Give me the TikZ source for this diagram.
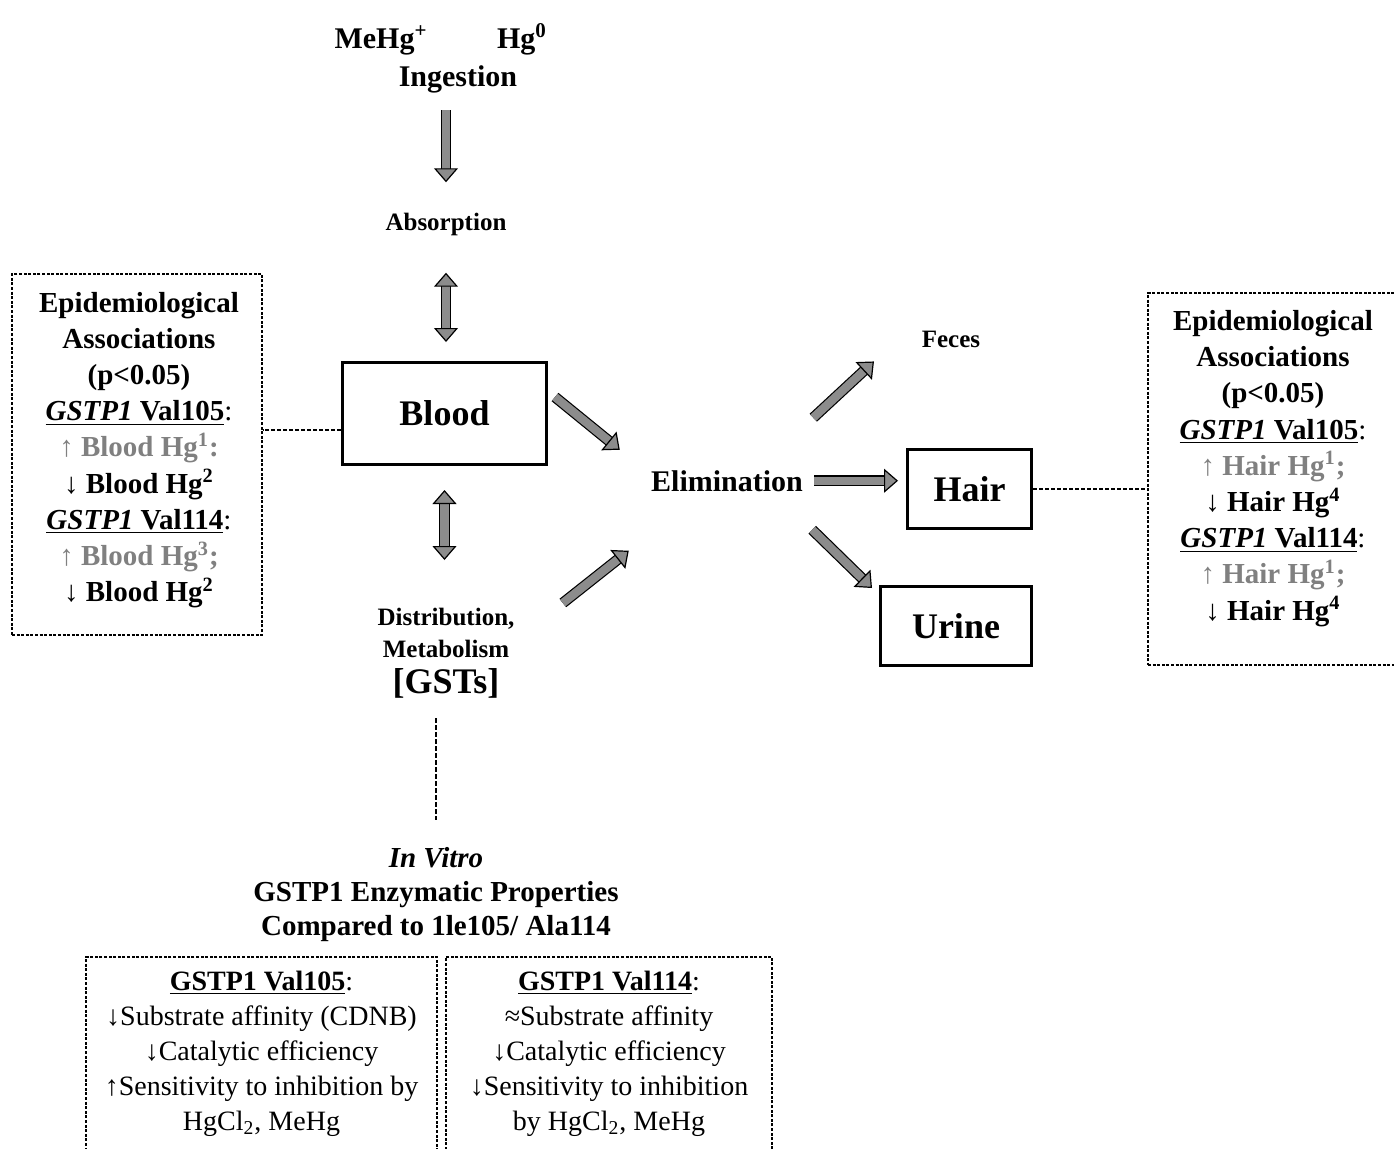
\documentclass[tikz,border=0pt]{standalone}
\usepackage{fontspec}
\setmainfont{Liberation Serif}
\usetikzlibrary{arrows.meta}
\definecolor{arrowgray}{gray}{0.55}
\definecolor{fadedtext}{gray}{0.5}
\tikzstyle{flow} = [draw=black, line width=0.6pt, double=arrowgray, double distance=4.2pt, ->, >={Triangle[length=7pt,width=12pt,line width=0.6pt,color=black,fill=arrowgray]}]
\tikzstyle{flowboth} = [flow, <->]
\tikzstyle{stage} = [inner sep=0pt, anchor=base, font=\bfseries\fontsize{12.5}{16}\selectfont]
\tikzstyle{organ} = [draw, line width=1.5pt, font=\bfseries\fontsize{18}{22}\selectfont]
\tikzstyle{epibox} = [draw, line width=0.6pt, dash pattern=on 1.5pt off 0.8pt, minimum width=125pt]
\tikzstyle{epitext} = [align=center, inner sep=0pt, font=\bfseries\fontsize{14.5}{18.1}\selectfont]
\tikzstyle{vitrotext} = [align=center, inner sep=0pt, font=\fontsize{14}{17.5}\selectfont]
\tikzstyle{dashlink} = [line width=0.7pt, dash pattern=on 2pt off 1pt]
\tikzstyle{vlink} = [line width=1.2pt, dash pattern=on 2.5pt off 1pt]

\begin{document}
\begin{tikzpicture}[x=0.5pt,y=-0.5pt]
          \useasboundingbox (0,0) rectangle (1394,1148);
          \clip (0,0) rectangle (1394,1148);

          \node[stage, font=\bfseries\fontsize{15}{18}\selectfont] (mehg) at (381,48) {MeHg\textsuperscript{+}};
          \node[stage, font=\bfseries\fontsize{15}{18}\selectfont] (hgzero) at (522,48) {Hg\textsuperscript{0}};
          \node[stage, font=\bfseries\fontsize{15}{18}\selectfont] (ingest) at (458,86) {Ingestion};
          \node[stage] (absorb) at (446,230) {Absorption};
          \node[organ, minimum width=102pt, minimum height=51pt] (blood) at (444.5,413.5) {Blood};
          \node[stage, anchor=north, align=center] (distrib) at (446,608) {Distribution,\\Metabolism};
          \node[stage, font=\bfseries\fontsize{18}{22}\selectfont] (gsts) at (446,693) {[GSTs]};
          \node[stage, font=\bfseries\fontsize{15}{18}\selectfont] (elim) at (727,491) {Elimination};
          \node[stage] (feces) at (951,347) {Feces};
          \node[organ, minimum width=62pt, minimum height=39.5pt] (hair) at (969.5,489) {Hair};
          \node[organ, minimum width=75.5pt, minimum height=39.5pt] (urine) at (956,626) {Urine};

          \node[epibox, minimum height=180.5pt] (epiL) at (137,454.5) {};
          \node[epitext] (epiLtext) at (139,450) {Epidemiological\\Associations\\(p<0.05)\\
            \underline{\textit{GSTP1} Val105}\textmd{:}\\
            {\color{fadedtext}\textmd{↑} Blood Hg\textsuperscript{1}:}\\
            \textmd{↓} Blood Hg\textsuperscript{2}\\
            \underline{\textit{GSTP1} Val114}\textmd{:}\\
            {\color{fadedtext}\textmd{↑} Blood Hg\textsuperscript{3};}\\
            \textmd{↓} Blood Hg\textsuperscript{2}};
          \node[epibox, minimum height=186pt] (epiR) at (1273,479) {};
          \node[epitext] (epiRtext) at (1273,468.5) {Epidemiological\\Associations\\(p<0.05)\\
            \underline{\textit{GSTP1} Val105}\textmd{:}\\
            {\color{fadedtext}\textmd{↑} Hair Hg\textsuperscript{1};}\\
            \textmd{↓} Hair Hg\textsuperscript{4}\\
            \underline{\textit{GSTP1} Val114}\textmd{:}\\
            {\color{fadedtext}\textmd{↑} Hair Hg\textsuperscript{1};}\\
            \textmd{↓} Hair Hg\textsuperscript{4}};

          \node[vitrotext, font=\bfseries\fontsize{14.5}{17}\selectfont] (invitro) at (436,895) {\textit{In Vitro}\\GSTP1 Enzymatic Properties\\Compared to 1le105/ Ala114};
          \node[epibox, minimum width=175.5pt, minimum height=96.5pt] (val105box) at (261.5,1053.5) {};
          \node[vitrotext] (val105text) at (261.5,1053.5) {\textbf{\underline{GSTP1 Val105}}:\\
            ↓Substrate affinity (CDNB)\\↓Catalytic efficiency\\↑Sensitivity to inhibition by\\HgCl\textsubscript{2}, MeHg};
          \node[epibox, minimum width=163pt, minimum height=96.5pt] (val114box) at (609,1053.5) {};
          \node[vitrotext] (val114text) at (609,1053.5) {\textbf{\underline{GSTP1 Val114}}:\\
            ≈Substrate affinity\\↓Catalytic efficiency\\↓Sensitivity to inhibition\\by HgCl\textsubscript{2}, MeHg};

          \draw[flow, shorten <=8.5pt, shorten >=15pt] (absorb.north |- ingest.south) -- (absorb.north);
          \draw[flowboth, shorten <=18.5pt, shorten >=9.5pt] (absorb.south) -- (absorb.south |- blood.north);
          \draw[flowboth, shorten <=12pt, shorten >=24pt] (blood.south) -- (blood.south |- distrib.north);
          \draw[flow] ([shift={(7,-16.5)}]blood.east) -- ([shift={(-31,-31)}]elim.west);
          \draw[flow] ([shift={(48,-5)}]distrib.north east) -- ([shift={(-22,70)}]elim.west);
          \draw[flow] ([shift={(10,-63)}]elim.east) -- ([shift={(-47.5,22.5)}]feces.west);
          \draw[flow, shorten <=5.5pt, shorten >=4pt] (elim.east) -- (hair.west |- elim.east);
          \draw[flow] ([shift={(9,49)}]elim.east) -- ([shift={(-7,-38)}]urine.west);

          \draw[dashlink] ([yshift=-8.25pt]blood.west) -- ([yshift=-8.25pt]blood.west -| epiL.east);
          \draw[dashlink] (hair.east) -- (hair.east -| epiR.west);
          \draw[vlink, shorten <=10pt, shorten >=13.5pt] (invitro.north |- gsts.south) -- (invitro.north);
        \end{tikzpicture}
\end{document}
